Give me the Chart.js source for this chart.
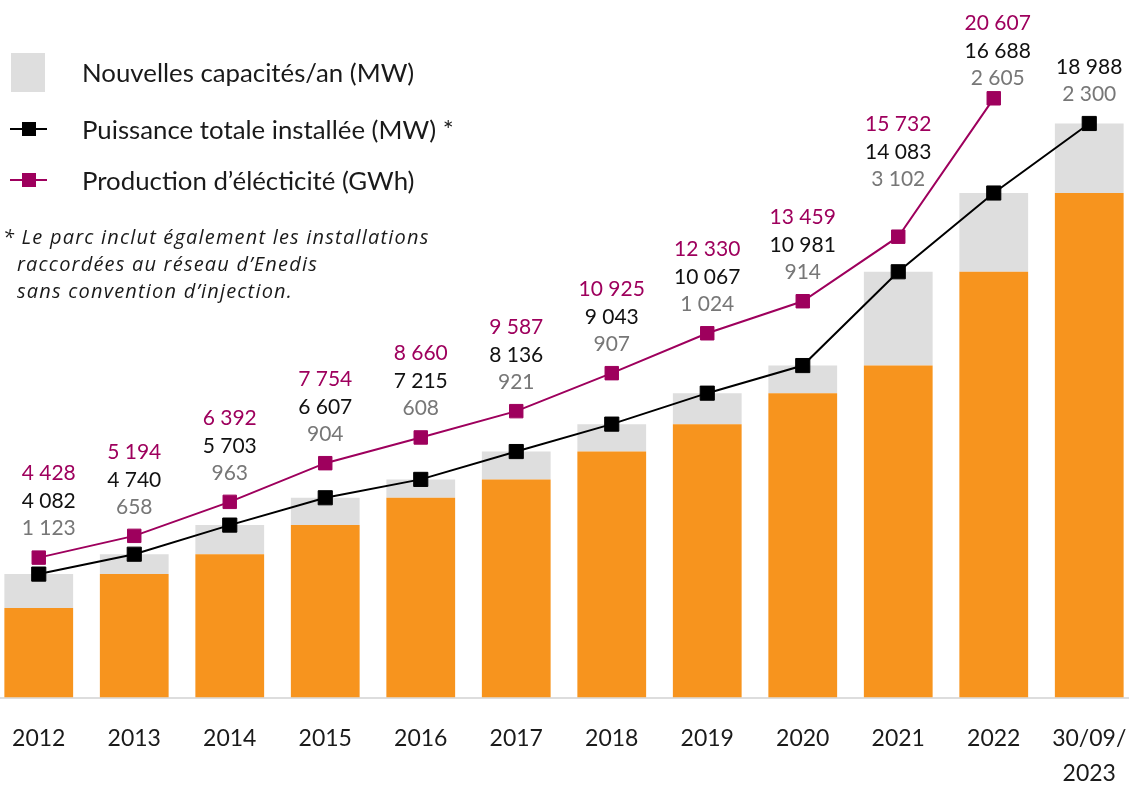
<!DOCTYPE html>
<html lang="fr">
<head>
<meta charset="utf-8">
<title>Parc photovoltaïque</title>
<script src="https://cdn.jsdelivr.net/npm/chart.js@4.4.1/dist/chart.umd.min.js"></script>
<style>
  html, body { margin: 0; padding: 0; width: 1129px; height: 785px; overflow: hidden; background: #fff; font-family: Lato, sans-serif; }
  #pv { position: absolute; left: -9px; top: 0; }
  .leg { position: absolute; left: 82px; color: #1a1a1a; font-size: 25.8px; line-height: 30px; white-space: nowrap; }
  .box { position: absolute; left: 11px; top: 53px; width: 34px; height: 39px; background: #dedede; }
  .mk-line { position: absolute; left: 10px; width: 37px; height: 2px; }
  .mk-sq { position: absolute; left: 22px; width: 14px; height: 14px; }
  .note { position: absolute; color: #1a1a1a; font-family: "Open Sans", sans-serif; font-size: 20px; letter-spacing: 1.2px; font-style: italic; line-height: 26px; white-space: nowrap; }
</style>
</head>
<body>
<canvas id="pv" width="1146" height="785"></canvas>

<div class="box"></div>
<div class="leg" style="top:57px">Nouvelles capacités/an (MW)</div>

<div class="mk-line" style="top:128px;background:#000"></div>
<div class="mk-sq" style="top:122px;background:#000"></div>
<div class="leg" style="top:114px">Puissance totale installée (MW) *</div>

<div class="mk-line" style="top:179px;background:#9e005d"></div>
<div class="mk-sq" style="top:173px;background:#9e005d"></div>
<div class="leg" style="top:165px">Production d’élécticité (GWh)</div>

<div class="note" style="left:3px;top:224px">* Le parc inclut également les installations</div>
<div class="note" style="left:17px;top:251px">raccordées au réseau d’Enedis</div>
<div class="note" style="left:17px;top:278px">sans convention d’injection.</div>

<script>
const years = ['2012', '2013', '2014', '2015', '2016', '2017', '2018', '2019', '2020', '2021', '2022', ['30/09/', '2023']];
const totalInstalled = [4082, 4740, 5703, 6607, 7215, 8136, 9043, 10067, 10981, 14083, 16688, 18988];
const newCapacity = [1123, 658, 963, 904, 608, 921, 907, 1024, 914, 3102, 2605, 2300];
const production = [4428, 5194, 6392, 7754, 8660, 9587, 10925, 12330, 13459, 15732, 20607, null];

const ORANGE = '#f7941e';
const LIGHT = '#dedede';
const MAGENTA = '#9e005d';
const GREY_TXT = '#777777';

// part of the bar that existed before the year
const previous = totalInstalled.map((t, i) => t - newCapacity[i]);

function fmt(v) {
  return String(v).replace(/\B(?=(\d{3})+(?!\d))/g, ' ');
}

// hand placement tweaks seen in the original (px)
const extraLift = { 9: 28, 10: -9 };
const extraShift = { 0: 10, 10: 4 };

const valueLabels = {
  id: 'valueLabels',
  afterDatasetsDraw(chart) {
    const ctx = chart.ctx;
    const totMeta = chart.getDatasetMeta(2);
    const prodMeta = chart.getDatasetMeta(3);
    ctx.save();
    ctx.font = '21px Lato';
    ctx.textAlign = 'center';
    ctx.textBaseline = 'middle';
    years.forEach((y, i) => {
      const pt = totMeta.data[i];
      const hasProd = production[i] !== null;
      let top = pt.y;
      if (hasProd) top = Math.min(top, prodMeta.data[i].y);
      top -= (extraLift[i] || 0);
      const x = pt.x + (extraShift[i] || 0);
      ctx.fillStyle = GREY_TXT;
      ctx.fillText(fmt(newCapacity[i]), x, top - 29);
      ctx.fillStyle = '#111';
      ctx.fillText(fmt(totalInstalled[i]), x, top - 56);
      if (hasProd) {
        ctx.fillStyle = MAGENTA;
        ctx.fillText(fmt(production[i]), x, top - 84);
      }
    });
    ctx.restore();
  }
};

const ctx = document.getElementById('pv').getContext('2d');
new Chart(ctx, {
  type: 'bar',
  data: {
    labels: years,
    datasets: [
      {
        label: 'Parc existant',
        data: previous,
        backgroundColor: ORANGE,
        stack: 'parc',
        yAxisID: 'y',
        order: 3,
        barPercentage: 0.72,
        categoryPercentage: 1,
      },
      {
        label: 'Nouvelles capacités/an (MW)',
        data: newCapacity,
        backgroundColor: LIGHT,
        stack: 'parc',
        yAxisID: 'y',
        order: 3,
        barPercentage: 0.72,
        categoryPercentage: 1,
      },
      {
        type: 'line',
        label: 'Puissance totale installée (MW)',
        data: totalInstalled,
        borderColor: '#000',
        backgroundColor: '#000',
        borderWidth: 2,
        pointStyle: 'rect',
        pointRadius: 10,
        pointBorderWidth: 1,
        stack: 'total',
        yAxisID: 'y',
        order: 1,
      },
      {
        type: 'line',
        label: 'Production d’élécticité (GWh)',
        data: production,
        borderColor: MAGENTA,
        backgroundColor: MAGENTA,
        borderWidth: 2,
        pointStyle: 'rect',
        pointRadius: 9.5,
        pointBorderWidth: 1,
        stack: 'prod',
        yAxisID: 'y1',
        order: 2,
      },
    ],
  },
  options: {
    responsive: false,
    animation: false,
    layout: { padding: 0, autoPadding: false },
    plugins: {
      legend: { display: false },
      tooltip: { enabled: false },
    },
    scales: {
      x: {
        stacked: true,
        grid: { display: false, drawTicks: false },
        border: { display: true, color: '#dddddd', width: 2 },
        ticks: {
          color: '#1a1a1a',
          font: { family: 'Lato', size: 23, lineHeight: 1.52 },
          padding: 24,
          maxRotation: 0,
          autoSkip: false,
        },
        afterFit: (axis) => {
          axis.height = 87.5;
          axis.paddingLeft = 0;
          axis.paddingRight = 0;
        },
      },
      y: {
        stacked: true,
        display: false,
        min: 0,
        max: 23073,
      },
      y1: {
        display: false,
        min: -500,
        max: 24070,
      },
    },
  },
  plugins: [valueLabels],
});
</script>
</body>
</html>
